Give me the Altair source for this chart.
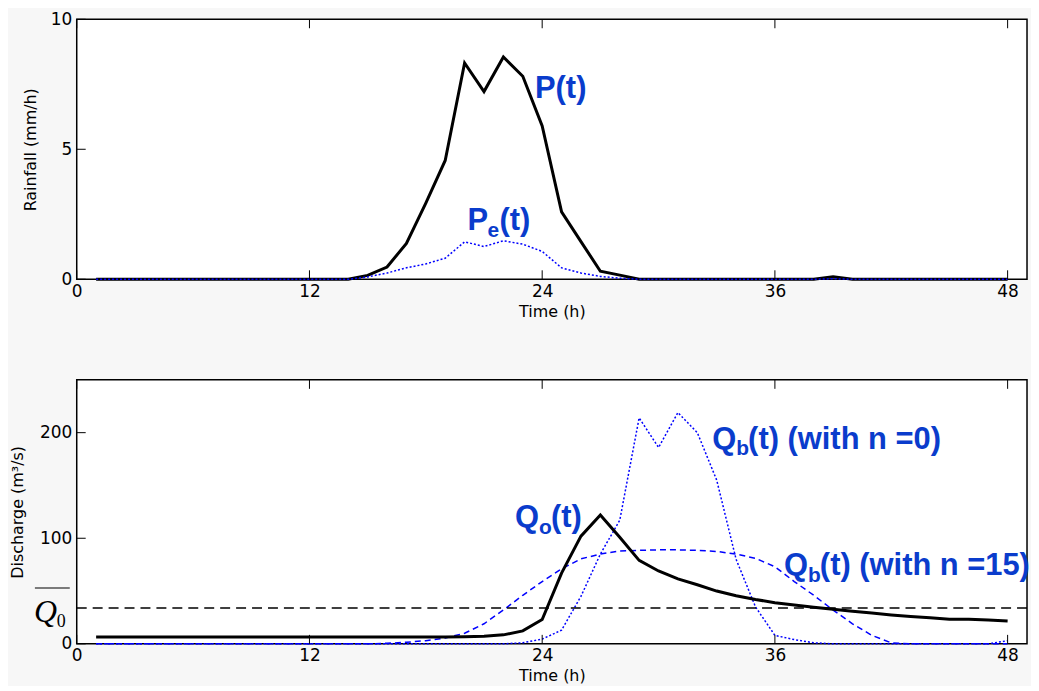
import altair as alt
import pandas as pd

# ---------------- data ----------------
hours = list(range(1, 49))

rain_total = [0, 0, 0, 0, 0, 0, 0, 0, 0, 0, 0, 0, 0, 0,
              0.15, 0.47, 1.38, 2.93, 4.57, 8.32, 7.22, 8.55, 7.81, 5.9,
              2.59, 1.45, 0.31, 0.16, 0, 0, 0, 0, 0, 0, 0, 0,
              0, 0, 0.1, 0, 0, 0, 0, 0, 0, 0, 0, 0]

rain_eff = [0, 0, 0, 0, 0, 0, 0, 0, 0, 0, 0, 0, 0, 0,
            0.09, 0.24, 0.44, 0.59, 0.81, 1.44, 1.26, 1.48, 1.35, 1.07,
            0.44, 0.24, 0.11, 0.04, 0, 0, 0, 0, 0, 0, 0, 0,
            0, 0, 0.02, 0, 0, 0, 0, 0, 0, 0, 0, 0]

q_obs = [6.5, 6.5, 6.5, 6.5, 6.5, 6.5, 6.5, 6.5, 6.5, 6.5, 6.5, 6.5,
         6.5, 6.5, 6.5, 6.5, 6.5, 6.5, 6.5, 6.7, 7.2, 8.5, 12.3, 23,
         67, 102, 122, 101, 79, 69, 61.5, 56, 50, 45.5, 42, 39,
         36.8, 34.6, 32.7, 30.8, 29.2, 27.4, 26, 24.8, 23.3, 23.3, 22.6, 21.7]

q_b_n0 = [0, 0, 0, 0, 0, 0, 0, 0, 0, 0, 0, 0,
          0, 0, 0, 0, 0, 0, 0, 0, 0, 0, 1, 4.5,
          13, 45, 85, 117, 214, 186, 219, 200, 155, 80, 35, 8,
          4, 1, 0, 0, 0, 0, 0, 0, 0, 0, 0, 3]

q_b_n15 = [0, 0, 0, 0, 0, 0, 0, 0, 0, 0, 0, 0,
           0, 0, 0, 0.5, 1.5, 3, 5.5, 10, 19, 32, 46, 59,
           71, 80.5, 85, 88, 88.5, 89, 89, 88.5, 87.5, 85, 81, 73,
           59, 46, 32, 19, 8, 1, 0, 0, 0, 0, 0, 0]

q0_mean = [34]

x_ticks = [0, 12, 24, 36, 48]
rain_ticks = [0, 5, 10]
q_ticks = [0, 100, 200]

# annotation anchors (time, value)
ann_P = {"x": 23.63, "y": 6.97}
ann_Pe = {"x": 20.15, "y": 1.88}
ann_Qo = {"x": 22.6, "y": 110.4}
ann_Qb0 = {"x": 32.77, "y": 185.0}
ann_Qb15 = {"x": 36.47, "y": 65.1}

# ---------------- styling ----------------
W = 954
H1 = 261
H2 = 265
X_DOMAIN = [0, 49.0]
BLUE_LINE = "#0000ff"
BLUE_TEXT = "#0a3ccc"
AX_FONT = "DejaVu Sans"
ANN_FONT = "Liberation Sans"
TICK_LEN = 9

xscale = alt.Scale(domain=X_DOMAIN, nice=False, zero=False)


def x_axis():
    return alt.Axis(values=x_ticks, ticks=False, grid=False, domain=False,
                    title="Time (h)", labelFont=AX_FONT, labelFontSize=17,
                    labelPadding=4, labelColor="black", labelFlush=False,
                    titleFont=AX_FONT, titleFontSize=16, titleFontWeight="normal",
                    titleColor="black", titlePadding=4)


def y_axis(vals, title, tpad):
    return alt.Axis(values=vals, ticks=False, grid=False, domain=False,
                    title=title, labelFont=AX_FONT, labelFontSize=17,
                    labelPadding=5, labelColor="black",
                    titleFont=AX_FONT, titleFontSize=16, titleFontWeight="normal",
                    titleColor="black", titlePadding=tpad)


def series(values):
    return pd.DataFrame({"t": hours, "v": values})


def panel(lines, yscale, yvals, ytitle, tpad, height, labels, extra=None):
    X = lambda f: alt.X(f, type="quantitative", scale=xscale, axis=x_axis())
    Y = lambda f: alt.Y(f, type="quantitative", scale=yscale,
                        axis=y_axis(yvals, ytitle, tpad))
    layers = []
    for values, style in lines:
        layers.append(alt.Chart(series(values)).mark_line(**style).encode(
            x=X("t"), y=Y("v")))
    if extra is not None:
        layers.extend(extra(X, Y))
    xt = pd.DataFrame({"tick": x_ticks})
    yt = pd.DataFrame({"tick": yvals})
    layers.append(alt.Chart(xt).mark_rule(color="black", strokeWidth=1).encode(
        x=X("tick"), y=alt.value(height), y2=alt.value(height - TICK_LEN)))
    layers.append(alt.Chart(xt).mark_rule(color="black", strokeWidth=1).encode(
        x=X("tick"), y=alt.value(0), y2=alt.value(TICK_LEN)))
    layers.append(alt.Chart(yt).mark_rule(color="black", strokeWidth=1).encode(
        y=Y("tick"), x=alt.value(0), x2=alt.value(TICK_LEN)))
    for anchor, main, sub, rest, main_w in labels:
        df = pd.DataFrame([anchor])
        base = dict(align="left", baseline="alphabetic", font=ANN_FONT,
                    fontWeight="bold", color=BLUE_TEXT)
        layers.append(alt.Chart(df).mark_text(fontSize=31, text=main, **base).encode(
            x=X("x"), y=Y("y")))
        if sub:
            layers.append(alt.Chart(df).mark_text(fontSize=21, text=sub, dx=main_w,
                                                  dy=7, **base).encode(x=X("x"), y=Y("y")))
            layers.append(alt.Chart(df).mark_text(fontSize=31, text=rest,
                                                  dx=main_w + 12, **base).encode(
                x=X("x"), y=Y("y")))
    return alt.layer(*layers).properties(width=W, height=height)


rain_scale = alt.Scale(domain=[0, 10], nice=False)
q_scale = alt.Scale(domain=[0, 250], nice=False)

top = panel(
    [(rain_total, dict(color="black", strokeWidth=3)),
     (rain_eff, dict(color=BLUE_LINE, strokeWidth=1.5, strokeDash=[2, 2]))],
    rain_scale, rain_ticks, "Rainfall (mm/h)", 12, H1,
    [(ann_P, "P(t)", None, None, 0),
     (ann_Pe, "P", "e", "(t)", 20)])


def q0_layers(X, Y):
    df = pd.DataFrame({"q": q0_mean})
    out = [alt.Chart(df).mark_rule(color="black", strokeWidth=1.5,
                                   strokeDash=[10, 6]).encode(y=Y("q"))]
    out.append(alt.Chart(df).mark_rule(color="black", strokeWidth=1.2, yOffset=-20).encode(
        y=Y("q"), x=alt.value(-42), x2=alt.value(-7)))
    out.append(alt.Chart(df).mark_text(text="Q", font="Liberation Serif", fontStyle="italic",
                                       fontSize=32, align="left", baseline="alphabetic",
                                       color="black", dy=14).encode(
        y=Y("q"), x=alt.value(-43)))
    out.append(alt.Chart(df).mark_text(text="0", font="Liberation Serif",
                                       fontSize=18, align="left", baseline="alphabetic",
                                       color="black", dy=19).encode(
        y=Y("q"), x=alt.value(-20)))
    return out


bottom = panel(
    [(q_b_n15, dict(color=BLUE_LINE, strokeWidth=1.5, strokeDash=[6, 4])),
     (q_b_n0, dict(color=BLUE_LINE, strokeWidth=1.5, strokeDash=[2, 2])),
     (q_obs, dict(color="black", strokeWidth=3))],
    q_scale, q_ticks, "Discharge (m³/s)", 14, H2,
    [(ann_Qo, "Q", "o", "(t)", 24),
     (ann_Qb0, "Q", "b", "(t) (with n =0)", 24),
     (ann_Qb15, "Q", "b", "(t) (with n =15)", 24)],
    extra=q0_layers)

chart = alt.vconcat(top, bottom, spacing=58).properties(
    background="#f7f7f7", padding={"left": 0, "top": 0, "right": 0, "bottom": 0}
).configure_view(fill="white", stroke="black", strokeWidth=1.5)

chart.save("out.html", embed_options={"renderer": "svg", "actions": False})
